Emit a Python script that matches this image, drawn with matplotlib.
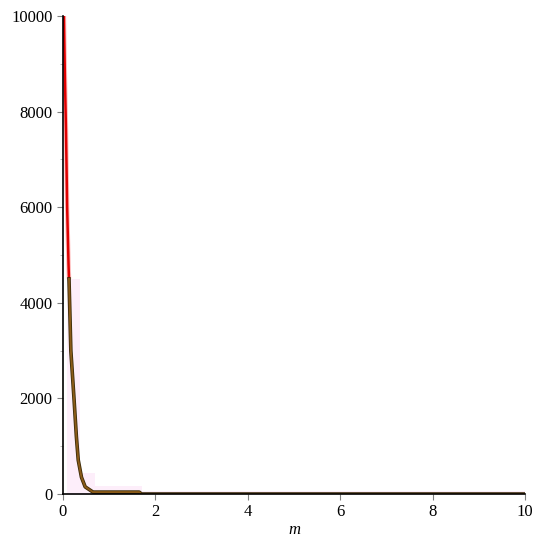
import numpy as np
import matplotlib

matplotlib.use("Agg")
import matplotlib.pyplot as plt
from matplotlib.ticker import MultipleLocator

# red curve (upper part, near m = 0)
red_m = [0.02, 0.04, 0.065, 0.09, 0.12, 0.13]
red_y = [10000, 8800, 7600, 6000, 4800, 4500]

# brown curve
brown_m = [0.13, 0.17, 0.24, 0.29, 0.33, 0.40, 0.48, 0.65, 1.0, 1.65, 1.70, 10.0]
brown_y = [4500, 3000, 1970, 1200, 710, 350, 150, 40, 40, 40, 0, 0]

# faint pink step area
pink_edges = [0.09, 0.37, 0.70, 1.70, 10.0]
pink_heights = [4500, 450, 160, 60]

fig = plt.figure(figsize=(5.43, 5.5), dpi=100)
ax = fig.add_axes([0.116, 0.1018, 0.851, 0.869])

for i in range(len(pink_heights)):
    ax.fill_between([pink_edges[i], pink_edges[i + 1]], 0, pink_heights[i],
                    color="#fdeefa", lw=0)

ax.plot(red_m, red_y, color="#ff2020", lw=3.2, alpha=0.3, solid_capstyle="butt")
ax.plot(red_m, red_y, color="#e00000", lw=1.8)
ax.plot(brown_m, brown_y, color="#3a2a08", lw=2.6)
ax.plot(brown_m, brown_y, color="#8a5a18", lw=1.4)

ax.set_xlim(0, 10)
ax.set_ylim(0, 10000)
ax.xaxis.set_major_locator(MultipleLocator(2))
ax.yaxis.set_major_locator(MultipleLocator(2000))
ax.yaxis.set_minor_locator(MultipleLocator(1000))
ax.tick_params(which="major", length=4, width=0.8, colors="#808080",
               labelcolor="black", labelsize=12)
ax.tick_params(which="minor", length=2, width=0.6, colors="#b0b0b0")
for lab in ax.get_xticklabels() + ax.get_yticklabels():
    lab.set_family("Liberation Serif")
for side in ("top", "right"):
    ax.spines[side].set_visible(False)
for side in ("left", "bottom"):
    ax.spines[side].set_color("black")
    ax.spines[side].set_linewidth(1.2)
ax.set_xlabel("m", fontsize=12, family="Liberation Serif", style="italic",
              labelpad=1)

fig.savefig("out.png", dpi=100)
